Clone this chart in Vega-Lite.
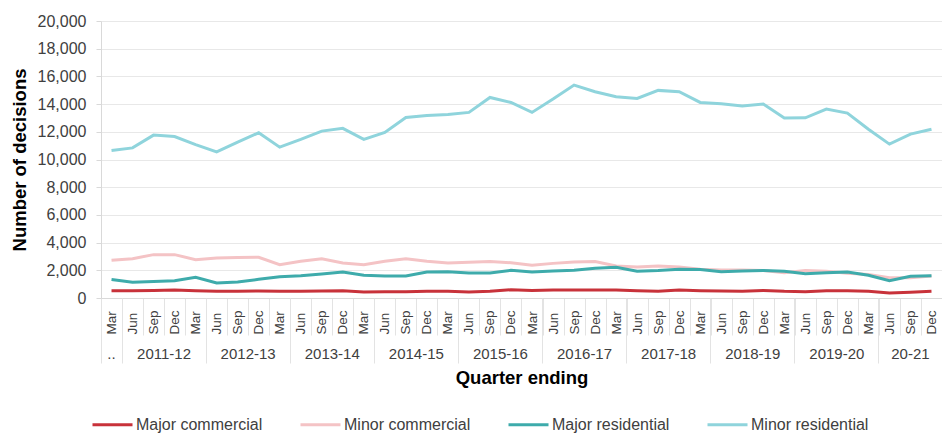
{
  "$schema": "https://vega.github.io/schema/vega-lite/v6.json",
  "width": 841,
  "height": 277,
  "autosize": {"type": "none"},
  "padding": {"left": 101, "top": 21, "right": 0, "bottom": 137},
  "background": "white",
  "config": {
    "view": {"stroke": null},
    "font": "Liberation Sans",
    "axis": {"labelFont": "Liberation Sans", "titleFont": "Liberation Sans"}
  },
  "datasets": {
    "d": [
      {"q":"Mar 2011","s":"Major commercial","v":530},{"q":"Jun 2011","s":"Major commercial","v":530},{"q":"Sep 2011","s":"Major commercial","v":550},{"q":"Dec 2011","s":"Major commercial","v":580},
      {"q":"Mar 2012","s":"Major commercial","v":530},{"q":"Jun 2012","s":"Major commercial","v":480},{"q":"Sep 2012","s":"Major commercial","v":480},{"q":"Dec 2012","s":"Major commercial","v":510},
      {"q":"Mar 2013","s":"Major commercial","v":480},{"q":"Jun 2013","s":"Major commercial","v":480},{"q":"Sep 2013","s":"Major commercial","v":510},{"q":"Dec 2013","s":"Major commercial","v":530},
      {"q":"Mar 2014","s":"Major commercial","v":430},{"q":"Jun 2014","s":"Major commercial","v":460},{"q":"Sep 2014","s":"Major commercial","v":460},{"q":"Dec 2014","s":"Major commercial","v":480},
      {"q":"Mar 2015","s":"Major commercial","v":480},{"q":"Jun 2015","s":"Major commercial","v":430},{"q":"Sep 2015","s":"Major commercial","v":480},{"q":"Dec 2015","s":"Major commercial","v":600},
      {"q":"Mar 2016","s":"Major commercial","v":550},{"q":"Jun 2016","s":"Major commercial","v":580},{"q":"Sep 2016","s":"Major commercial","v":580},{"q":"Dec 2016","s":"Major commercial","v":580},
      {"q":"Mar 2017","s":"Major commercial","v":580},{"q":"Jun 2017","s":"Major commercial","v":530},{"q":"Sep 2017","s":"Major commercial","v":480},{"q":"Dec 2017","s":"Major commercial","v":580},
      {"q":"Mar 2018","s":"Major commercial","v":530},{"q":"Jun 2018","s":"Major commercial","v":510},{"q":"Sep 2018","s":"Major commercial","v":480},{"q":"Dec 2018","s":"Major commercial","v":550},
      {"q":"Mar 2019","s":"Major commercial","v":480},{"q":"Jun 2019","s":"Major commercial","v":460},{"q":"Sep 2019","s":"Major commercial","v":530},{"q":"Dec 2019","s":"Major commercial","v":530},
      {"q":"Mar 2020","s":"Major commercial","v":480},{"q":"Jun 2020","s":"Major commercial","v":360},{"q":"Sep 2020","s":"Major commercial","v":410},{"q":"Dec 2020","s":"Major commercial","v":480},

      {"q":"Mar 2011","s":"Minor commercial","v":2720},{"q":"Jun 2011","s":"Minor commercial","v":2840},{"q":"Sep 2011","s":"Minor commercial","v":3130},{"q":"Dec 2011","s":"Minor commercial","v":3130},
      {"q":"Mar 2012","s":"Minor commercial","v":2770},{"q":"Jun 2012","s":"Minor commercial","v":2890},{"q":"Sep 2012","s":"Minor commercial","v":2920},{"q":"Dec 2012","s":"Minor commercial","v":2940},
      {"q":"Mar 2013","s":"Minor commercial","v":2410},{"q":"Jun 2013","s":"Minor commercial","v":2650},{"q":"Sep 2013","s":"Minor commercial","v":2840},{"q":"Dec 2013","s":"Minor commercial","v":2530},
      {"q":"Mar 2014","s":"Minor commercial","v":2410},{"q":"Jun 2014","s":"Minor commercial","v":2650},{"q":"Sep 2014","s":"Minor commercial","v":2840},{"q":"Dec 2014","s":"Minor commercial","v":2650},
      {"q":"Mar 2015","s":"Minor commercial","v":2530},{"q":"Jun 2015","s":"Minor commercial","v":2580},{"q":"Sep 2015","s":"Minor commercial","v":2630},{"q":"Dec 2015","s":"Minor commercial","v":2550},
      {"q":"Mar 2016","s":"Minor commercial","v":2360},{"q":"Jun 2016","s":"Minor commercial","v":2500},{"q":"Sep 2016","s":"Minor commercial","v":2600},{"q":"Dec 2016","s":"Minor commercial","v":2630},
      {"q":"Mar 2017","s":"Minor commercial","v":2310},{"q":"Jun 2017","s":"Minor commercial","v":2240},{"q":"Sep 2017","s":"Minor commercial","v":2310},{"q":"Dec 2017","s":"Minor commercial","v":2240},
      {"q":"Mar 2018","s":"Minor commercial","v":2070},{"q":"Jun 2018","s":"Minor commercial","v":2020},{"q":"Sep 2018","s":"Minor commercial","v":2020},{"q":"Dec 2018","s":"Minor commercial","v":1980},
      {"q":"Mar 2019","s":"Minor commercial","v":1830},{"q":"Jun 2019","s":"Minor commercial","v":1980},{"q":"Sep 2019","s":"Minor commercial","v":1930},{"q":"Dec 2019","s":"Minor commercial","v":1780},
      {"q":"Mar 2020","s":"Minor commercial","v":1690},{"q":"Jun 2020","s":"Minor commercial","v":1470},{"q":"Sep 2020","s":"Minor commercial","v":1470},{"q":"Dec 2020","s":"Minor commercial","v":1590},

      {"q":"Mar 2011","s":"Major residential","v":1330},{"q":"Jun 2011","s":"Major residential","v":1130},{"q":"Sep 2011","s":"Major residential","v":1200},{"q":"Dec 2011","s":"Major residential","v":1250},
      {"q":"Mar 2012","s":"Major residential","v":1490},{"q":"Jun 2012","s":"Major residential","v":1080},{"q":"Sep 2012","s":"Major residential","v":1160},{"q":"Dec 2012","s":"Major residential","v":1350},
      {"q":"Mar 2013","s":"Major residential","v":1540},{"q":"Jun 2013","s":"Major residential","v":1610},{"q":"Sep 2013","s":"Major residential","v":1730},{"q":"Dec 2013","s":"Major residential","v":1880},
      {"q":"Mar 2014","s":"Major residential","v":1640},{"q":"Jun 2014","s":"Major residential","v":1590},{"q":"Sep 2014","s":"Major residential","v":1590},{"q":"Dec 2014","s":"Major residential","v":1880},
      {"q":"Mar 2015","s":"Major residential","v":1900},{"q":"Jun 2015","s":"Major residential","v":1810},{"q":"Sep 2015","s":"Major residential","v":1810},{"q":"Dec 2015","s":"Major residential","v":2000},
      {"q":"Mar 2016","s":"Major residential","v":1880},{"q":"Jun 2016","s":"Major residential","v":1950},{"q":"Sep 2016","s":"Major residential","v":2000},{"q":"Dec 2016","s":"Major residential","v":2140},
      {"q":"Mar 2017","s":"Major residential","v":2220},{"q":"Jun 2017","s":"Major residential","v":1930},{"q":"Sep 2017","s":"Major residential","v":1980},{"q":"Dec 2017","s":"Major residential","v":2070},
      {"q":"Mar 2018","s":"Major residential","v":2050},{"q":"Jun 2018","s":"Major residential","v":1900},{"q":"Sep 2018","s":"Major residential","v":1950},{"q":"Dec 2018","s":"Major residential","v":1980},
      {"q":"Mar 2019","s":"Major residential","v":1930},{"q":"Jun 2019","s":"Major residential","v":1760},{"q":"Sep 2019","s":"Major residential","v":1830},{"q":"Dec 2019","s":"Major residential","v":1880},
      {"q":"Mar 2020","s":"Major residential","v":1640},{"q":"Jun 2020","s":"Major residential","v":1250},{"q":"Sep 2020","s":"Major residential","v":1570},{"q":"Dec 2020","s":"Major residential","v":1610},

      {"q":"Mar 2011","s":"Minor residential","v":10650},{"q":"Jun 2011","s":"Minor residential","v":10840},{"q":"Sep 2011","s":"Minor residential","v":11760},{"q":"Dec 2011","s":"Minor residential","v":11660},
      {"q":"Mar 2012","s":"Minor residential","v":11080},{"q":"Jun 2012","s":"Minor residential","v":10550},{"q":"Sep 2012","s":"Minor residential","v":11250},{"q":"Dec 2012","s":"Minor residential","v":11930},
      {"q":"Mar 2013","s":"Minor residential","v":10890},{"q":"Jun 2013","s":"Minor residential","v":11450},{"q":"Sep 2013","s":"Minor residential","v":12050},{"q":"Dec 2013","s":"Minor residential","v":12250},
      {"q":"Mar 2014","s":"Minor residential","v":11450},{"q":"Jun 2014","s":"Minor residential","v":11950},{"q":"Sep 2014","s":"Minor residential","v":13030},{"q":"Dec 2014","s":"Minor residential","v":13180},
      {"q":"Mar 2015","s":"Minor residential","v":13250},{"q":"Jun 2015","s":"Minor residential","v":13400},{"q":"Sep 2015","s":"Minor residential","v":14480},{"q":"Dec 2015","s":"Minor residential","v":14120},
      {"q":"Mar 2016","s":"Minor residential","v":13400},{"q":"Jun 2016","s":"Minor residential","v":14360},{"q":"Sep 2016","s":"Minor residential","v":15370},{"q":"Dec 2016","s":"Minor residential","v":14890},
      {"q":"Mar 2017","s":"Minor residential","v":14530},{"q":"Jun 2017","s":"Minor residential","v":14410},{"q":"Sep 2017","s":"Minor residential","v":14990},{"q":"Dec 2017","s":"Minor residential","v":14890},
      {"q":"Mar 2018","s":"Minor residential","v":14120},{"q":"Jun 2018","s":"Minor residential","v":14020},{"q":"Sep 2018","s":"Minor residential","v":13860},{"q":"Dec 2018","s":"Minor residential","v":14000},
      {"q":"Mar 2019","s":"Minor residential","v":12990},{"q":"Jun 2019","s":"Minor residential","v":13010},{"q":"Sep 2019","s":"Minor residential","v":13640},{"q":"Dec 2019","s":"Minor residential","v":13350},
      {"q":"Mar 2020","s":"Minor residential","v":12190},{"q":"Jun 2020","s":"Minor residential","v":11110},{"q":"Sep 2020","s":"Minor residential","v":11830},{"q":"Dec 2020","s":"Minor residential","v":12190}
    ]
  },
  "data": {"name": "d"},
  "encoding": {
    "y": {
      "field": "v", "type": "quantitative",
      "scale": {"domain": [0, 20000], "nice": false},
      "axis": {
        "title": "Number of decisions",
        "titleFontSize": 18.5, "titleFontWeight": "bold", "titleColor": "#000000", "titlePadding": 8,
        "values": [0,2000,4000,6000,8000,10000,12000,14000,16000,18000,20000],
        "format": ",.0f",
        "labelFontSize": 16, "labelColor": "#404040", "labelPadding": 10,
        "tickSize": 5, "tickColor": "#d9d9d9",
        "domainColor": "#d9d9d9",
        "gridColor": "#e8e8e8", "grid": true
      }
    }
  },
  "layer": [
    {
      "mark": {"type": "line", "strokeWidth": 3},
      "encoding": {
        "x": {
          "field": "q", "type": "ordinal", "sort": null,
          "scale": {"type": "band", "paddingInner": 0, "paddingOuter": 0},
          "axis": {
            "orient": "bottom",
            "title": null,
            "labelAngle": 270, "labelAlign": "left", "labelBaseline": "middle",
            "labelExpr": "isString(datum.value) ? substring(datum.value, 0, 3) : ''",
            "labelFontSize": 13.5, "labelColor": "#404040", "labelPadding": -1,
            "tickBand": "extent", "tickSize": 37, "tickColor": "#e3e3e3",
            "domainColor": "#d9d9d9", "grid": false
          }
        },
        "color": {
          "field": "s", "type": "nominal",
          "scale": {
            "domain": ["Major commercial", "Minor commercial", "Major residential", "Minor residential"],
            "range": ["#c8323a", "#f4c3c5", "#3eabab", "#8fd4dc"]
          },
          "legend": {
            "title": null, "orient": "none", "direction": "horizontal",
            "legendX": -10, "legendY": 382,
            "symbolType": "stroke", "symbolSize": 1600, "symbolStrokeWidth": 3,
            "labelFontSize": 16, "labelColor": "#404040", "labelOffset": 2,
            "columnPadding": 31
          }
        }
      }
    },
    {
      "mark": {"type": "line", "opacity": 0},
      "encoding": {
        "x": {
          "field": "q", "type": "ordinal", "sort": null,
          "axis": {
            "orient": "bottom",
            "title": "Quarter ending",
            "titleFontSize": 18.5, "titleFontWeight": "bold", "titleColor": "#000000", "titlePadding": 5,
            "values": ["Mar 2011","Jun 2011","Jun 2012","Jun 2013","Jun 2014","Jun 2015","Jun 2016","Jun 2017","Jun 2018","Jun 2019","Jun 2020"],
            "labelExpr": "datum.value == 'Mar 2011' ? '..' : datum.value == 'Jun 2020' ? '20-21' : substring(datum.value, 4, 8) + '-' + (toNumber(substring(datum.value, 6, 8)) + 1)",
            "labelAngle": 0, "labelAlign": "center", "labelBaseline": "middle",
            "labelFontSize": 15, "labelColor": "#404040", "labelPadding": -10,
            "bandPosition": 0,
            "labelOffset": {"condition": [{"test": "datum.value == 'Mar 2011'", "value": 0}, {"test": "datum.value == 'Jun 2020'", "value": 21}], "value": 31.5},
            "tickSize": 65, "tickColor": "#e3e3e3",
            "domain": false, "grid": false
          }
        },
        "detail": {"field": "s", "type": "nominal"}
      }
    }
  ],
  "resolve": {"axis": {"x": "independent"}}
}
